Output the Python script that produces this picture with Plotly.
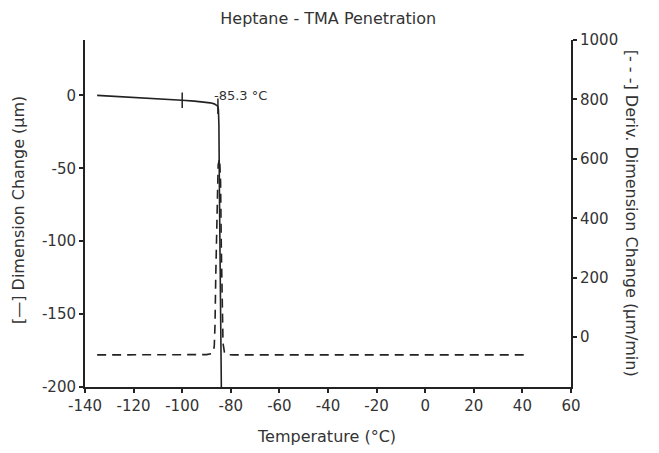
import plotly.graph_objects as go

# Dimension change (solid) vs temperature
temp_dim = [-135, -125, -115, -105, -100, -95, -91, -88.5, -86.8, -85.9, -85.4,
            -85.1, -84.9, -84.6, -84.2, -83.8]
dim_change = [0, -0.8, -1.7, -2.7, -3.3, -3.9, -4.5, -5.1, -5.8, -6.5, -7.4,
              -9.5, -20, -80, -150, -215]

# Derivative of dimension change (dashed) vs temperature
temp_deriv = [-135, -95, -90, -88, -87.2, -86.8, -86.5, -86.2, -85.8, -85.2,
              -84.6, -84.2, -83.9, -83.6, -83.2, -82.6, -81.5, -79, 41]
deriv = [-60, -60, -59, -56, -48, -30, 40, 200, 420, 580, 600, 520, 300, 80,
         -20, -52, -59, -60, -60]

# Analysis cursors on the dimension curve
cursor_temp = [-100, -85.3]
cursor_dim = [-3.3, -7.4]
onset_temp = -85.3
onset_label = "-85.3 °C"

x_ticks = list(range(-140, 61, 20))
y_ticks = list(range(-200, 1, 50))
y2_ticks = list(range(0, 1001, 200))

FONT = "DejaVu Sans"
INK = "#222222"
TXT = "#333333"

fig = go.Figure()
fig.add_trace(go.Scatter(
    x=temp_dim, y=dim_change, mode="lines",
    line=dict(color=INK, width=1.6), showlegend=False))
fig.add_trace(go.Scatter(
    x=cursor_temp, y=cursor_dim, mode="markers",
    marker=dict(symbol="line-ns", size=11, line=dict(color=INK, width=1.5)),
    showlegend=False))
fig.add_trace(go.Scatter(
    x=temp_deriv, y=deriv, mode="lines", yaxis="y2",
    line=dict(color=INK, width=1.6, dash="9px,6px"), showlegend=False))

axis_common = dict(showline=True, linecolor=INK, linewidth=2, ticks="outside",
                   ticklen=4, tickwidth=1.5, tickcolor=INK, showgrid=False,
                   zeroline=False, automargin=False,
                   tickfont=dict(family=FONT, size=15, color=TXT))


def labels(vals):
    # plain hyphen-minus for negative tick labels
    return [str(v) for v in vals]


def side_title(text, x, y, angle):
    return dict(text=text, xref="paper", yref="paper", x=x, y=y,
                textangle=angle, showarrow=False, xanchor="center",
                yanchor="middle", font=dict(family=FONT, size=16, color=TXT))


fig.update_layout(
    width=659, height=453,
    margin=dict(l=85, r=88, t=40, b=66),
    paper_bgcolor="white", plot_bgcolor="white",
    title=dict(text="Heptane - TMA Penetration", x=0.498, xanchor="center",
               y=0.96, yanchor="middle",
               font=dict(family=FONT, size=16, color=TXT)),
    xaxis=dict(range=[-140, 60], tickvals=x_ticks, ticktext=labels(x_ticks),
               **axis_common),
    yaxis=dict(range=[-200, 38], tickvals=y_ticks, ticktext=labels(y_ticks),
               **axis_common),
    yaxis2=dict(range=[-168, 1000], tickvals=y2_ticks,
                ticktext=labels(y2_ticks), overlaying="y", side="right",
                **axis_common),
    annotations=[
        side_title("Temperature (°C)", 0.497, -0.144, 0),
        side_title("[—] Dimension Change (µm)", -0.138, 0.51, -90),
        side_title("[- - -] Deriv. Dimension Change (µm/min)", 1.125, 0.5, 90),
        dict(text=onset_label, x=onset_temp, y=0, xref="x", yref="y",
             showarrow=False, xanchor="left", yanchor="middle", xshift=-6,
             font=dict(family=FONT, size=13, color=TXT)),
    ],
)

fig.write_html("out.html")
